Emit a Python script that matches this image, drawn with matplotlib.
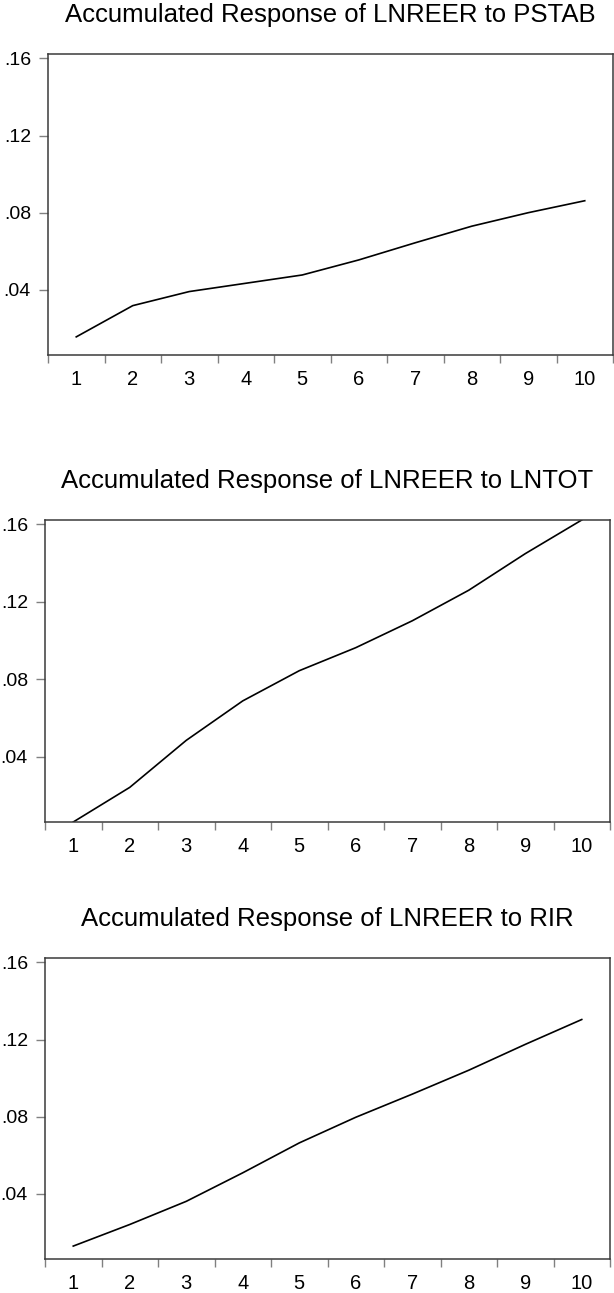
import matplotlib
matplotlib.use("Agg")
import matplotlib.pyplot as plt
from matplotlib.ticker import FixedLocator, FuncFormatter

plt.rcParams['font.family'] = ['Liberation Sans', 'DejaVu Sans']

periods = [1, 2, 3, 4, 5, 6, 7, 8, 9, 10]
titles = [
    "Accumulated Response of LNREER to PSTAB",
    "Accumulated Response of LNREER to LNTOT",
    "Accumulated Response of LNREER to RIR",
]
resp_pstab = [0.0156, 0.0318, 0.0391, 0.0434, 0.0477, 0.0555, 0.0644, 0.0730, 0.0800, 0.0862]
resp_lntot = [0.0062, 0.0241, 0.0484, 0.0688, 0.0844, 0.0963, 0.1102, 0.1260, 0.1449, 0.1623]
resp_rir = [0.0129, 0.0241, 0.0361, 0.0509, 0.0664, 0.0797, 0.0917, 0.1041, 0.1175, 0.1304]
y_ticks = [0.04, 0.08, 0.12, 0.16]

series = [resp_pstab, resp_lntot, resp_rir]

W, H = 614, 1293
fig = plt.figure(figsize=(W / 100, H / 100), dpi=100)

# axes boxes in pixels: (left, top, right, bottom)
boxes = [(48, 54, 613, 355), (45, 520, 610, 822), (45, 958, 610, 1259)]
title_baselines = [22, 488, 926]

all_vals = resp_pstab + resp_lntot + resp_rir
ymin, ymax = min(all_vals), max(all_vals)

spine_col = '#3a3a3a'
tick_col = '#808080'

for data, title, (l, t, r, b), tb in zip(series, titles, boxes, title_baselines):
    ax = fig.add_axes([l / W, 1 - b / H, (r - l) / W, (b - t) / H])
    ax.plot(periods, data, color='black', lw=1.2)
    ax.set_xlim(0.5, 10.5)
    ax.set_ylim(ymin, ymax)
    for s in ax.spines.values():
        s.set_color(spine_col)
        s.set_linewidth(1.1)
    ax.xaxis.set_major_locator(FixedLocator(periods))
    ax.xaxis.set_minor_locator(FixedLocator([p - 0.5 for p in periods] + [10.5]))
    ax.tick_params(axis='x', which='major', length=0, pad=10.5, labelsize=14.5)
    ax.tick_params(axis='x', which='minor', length=5.8, width=1.0,
                   color=tick_col, direction='out')
    ax.yaxis.set_major_locator(FixedLocator(y_ticks))
    ax.yaxis.set_major_formatter(FuncFormatter(lambda v, p: ("%.2f" % v).lstrip('0')))
    ax.tick_params(axis='y', which='major', length=6.5, width=1.0, color=tick_col,
                   direction='out', pad=5.8, labelsize=14)
    fig.text(((l + r) / 2) / W, 1 - tb / H, title, ha='center', va='baseline',
             fontsize=18.5, color='black')

fig.savefig("out.png", dpi=100, facecolor='white')
